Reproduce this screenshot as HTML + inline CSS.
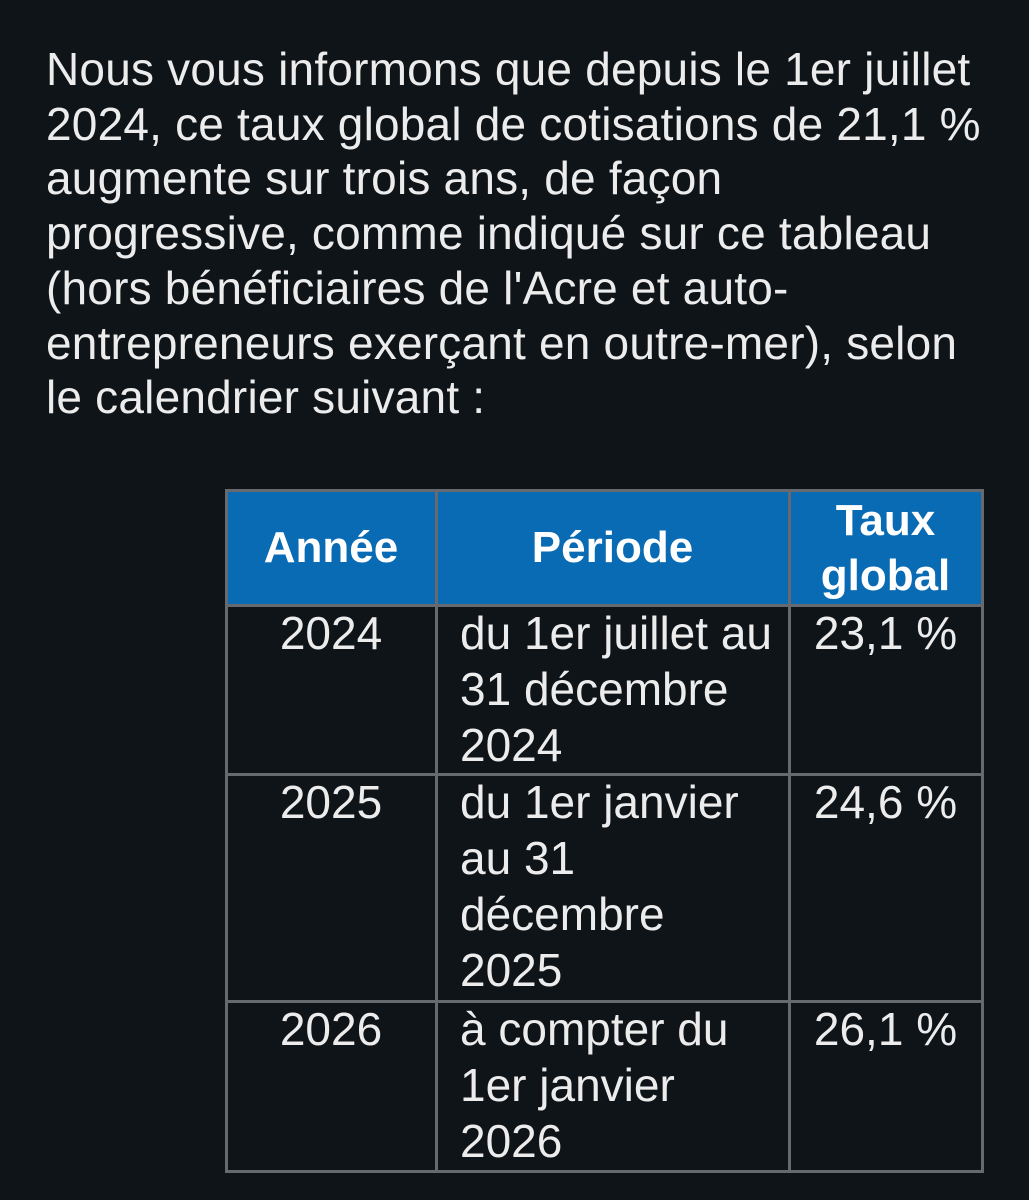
<!DOCTYPE html>
<html><head><meta charset="utf-8"><style>
html,body{margin:0;padding:0;background:#0f1418;}
body{width:1029px;height:1200px;position:relative;overflow:hidden;font-family:"Liberation Sans",Arial,sans-serif;color:#ececec;}
.p{position:absolute;left:46px;font-size:46px;letter-spacing:0.2px;line-height:54.7px;top:42px;white-space:nowrap;}
.cell{position:absolute;box-sizing:border-box;font-size:46px;line-height:56px;white-space:nowrap;}
.hd{background:#0a6bb5;color:#fff;font-weight:bold;display:flex;align-items:center;justify-content:center;text-align:center;line-height:55px;font-size:44px;}
.bd{color:#ececec;}
.c{text-align:center;}
.l{padding-left:24px;}
.hl{position:absolute;background:#666a6e;}
</style></head><body>
<div class="p">Nous vous informons que depuis le 1er juillet<br>2024, ce taux global de cotisations de 21,1 %<br>augmente sur trois ans, de façon<br>progressive, comme indiqué sur ce tableau<br>(hors bénéficiaires de l'Acre et auto-<br>entrepreneurs exerçant en outre-mer), selon<br>le calendrier suivant :</div>

<div>
<div class="cell hd" style="left:226px;top:490px;width:210px;height:115px">Année</div>
<div class="cell hd" style="left:436px;top:490px;width:353px;height:115px">Période</div>
<div class="cell hd" style="left:789px;top:490px;width:193px;height:115px">Taux<br>global</div>

<div class="cell bd c" style="left:226px;top:605px;width:210px">2024</div>
<div class="cell bd l" style="left:436px;top:605px;width:353px">du 1er juillet au<br>31 décembre<br>2024</div>
<div class="cell bd c" style="left:789px;top:605px;width:193px">23,1 %</div>

<div class="cell bd c" style="left:226px;top:774px;width:210px">2025</div>
<div class="cell bd l" style="left:436px;top:774px;width:353px">du 1er janvier<br>au 31<br>décembre<br>2025</div>
<div class="cell bd c" style="left:789px;top:774px;width:193px">24,6 %</div>

<div class="cell bd c" style="left:226px;top:1001px;width:210px">2026</div>
<div class="cell bd l" style="left:436px;top:1001px;width:353px">à compter du<br>1er janvier<br>2026</div>
<div class="cell bd c" style="left:789px;top:1001px;width:193px">26,1 %</div>

<div class="hl" style="left:225px;top:489px;width:759px;height:3px"></div>
<div class="hl" style="left:225px;top:604px;width:759px;height:3px"></div>
<div class="hl" style="left:225px;top:773px;width:759px;height:3px"></div>
<div class="hl" style="left:225px;top:1000px;width:759px;height:3px"></div>
<div class="hl" style="left:225px;top:1170px;width:759px;height:3px"></div>
<div class="hl" style="left:225px;top:489px;width:3px;height:684px"></div>
<div class="hl" style="left:435px;top:489px;width:3px;height:684px"></div>
<div class="hl" style="left:788px;top:489px;width:3px;height:684px"></div>
<div class="hl" style="left:981px;top:489px;width:3px;height:684px"></div>
</div>
</body></html>
